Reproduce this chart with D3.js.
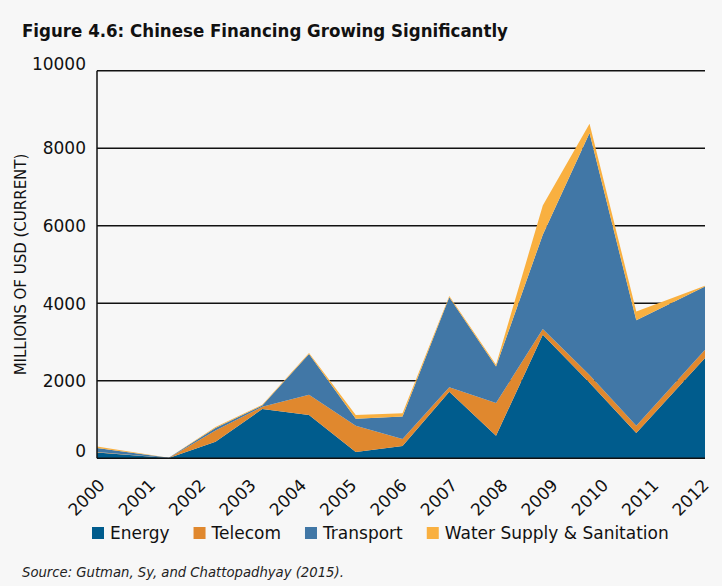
<!DOCTYPE html>
<meta charset="utf-8">
<style>

body {
  margin: 0;
  background: #f7f7f7;
}

svg {
  display: block;
  background: #f7f7f7;
}

.title {
  font-family: "DejaVu Sans Condensed", "DejaVu Sans", sans-serif;
  font-stretch: condensed;
  font-weight: bold;
  font-size: 18.5px;
  fill: #111;
}

.tick-label {
  font: 17px "DejaVu Sans", sans-serif;
  fill: #111;
}

.axis-title {
  font: 15px "DejaVu Sans", sans-serif;
  fill: #111;
}

.legend text {
  font: 17px "DejaVu Sans", sans-serif;
  fill: #111;
}

.source {
  font-family: "DejaVu Sans Condensed", "DejaVu Sans", sans-serif;
  font-stretch: condensed;
  font-style: italic;
  font-size: 14.7px;
  fill: #222;
}

</style>
<body>
<script src="https://cdn.jsdelivr.net/npm/d3@7"></script>
<script>

/*
  Data - millions of USD (current)
*/

var years     = [2000, 2001, 2002, 2003, 2004, 2005, 2006, 2007, 2008, 2009, 2010, 2011, 2012];
var energy    = [150, 5, 430, 1270, 1120, 160, 320, 1720, 580, 3190, 1950, 650, 2590];
var telecom   = [15, 0, 290, 60, 520, 680, 175, 115, 845, 145, 200, 190, 210];
var transport = [100, 10, 60, 30, 1050, 180, 585, 2320, 945, 2435, 6240, 2720, 1630];
var water     = [40, 0, 30, 20, 25, 100, 85, 35, 45, 750, 240, 230, 20];

var sectors   = ["Energy", "Telecom", "Transport", "Water Supply & Sanitation"];
var yTicks    = [0, 2000, 4000, 6000, 8000, 10000];

var colors = ["#005c8d", "#e0882e", "#4177a6", "#f9b040"];

/*
  Layout
*/

var width = 722,
    height = 586,
    margin = {top: 70.7, right: 17, bottom: 127.7, left: 97},
    w = width - margin.left - margin.right,
    h = height - margin.top - margin.bottom;

var svg = d3.select("body").append("svg")
    .attr("width", width)
    .attr("height", height);

var g = svg.append("g")
    .attr("transform", "translate(" + margin.left + "," + margin.top + ")");

/*
  Scales - the data points in the source sit closer together in the middle
  years than at the two ends, so x is a piecewise linear scale
*/

var x = d3.scaleLinear()
    .domain([2000, 2001, 2011, 2012])
    .range([0, w * 0.118, w * 0.887, w]);

var xLabels = d3.scalePoint()
    .domain(years)
    .range([0, w - 4]);

var y = d3.scaleLinear()
    .domain([0, 10000])
    .range([h, 0]);

var color = d3.scaleOrdinal()
    .domain(sectors)
    .range(colors);

/*
  Stack
*/

var table = years.map(function(yr, i) {
  var row = {year: yr};
  row[sectors[0]] = energy[i];
  row[sectors[1]] = telecom[i];
  row[sectors[2]] = transport[i];
  row[sectors[3]] = water[i];
  return row;
});

var series = d3.stack().keys(sectors)(table);

var area = d3.area()
    .x(function(d) { return x(d.data.year); })
    .y0(function(d) { return y(d[0]); })
    .y1(function(d) { return y(d[1]); });

/*
  Grid lines
*/

g.append("g")
    .selectAll("line")
    .data(yTicks.filter(function(t) { return t > 0; }))
    .enter().append("line")
    .attr("x1", 0)
    .attr("x2", w)
    .attr("y1", function(d) { return y(d); })
    .attr("y2", function(d) { return y(d); })
    .attr("stroke", "#111")
    .attr("stroke-width", 1.5);

/*
  Areas
*/

g.append("g")
    .selectAll("path")
    .data(series)
    .enter().append("path")
    .attr("d", area)
    .attr("fill", function(d) { return color(d.key); });

/*
  Axes lines
*/

g.append("line")
    .attr("x1", 0).attr("x2", 0)
    .attr("y1", 0).attr("y2", h)
    .attr("stroke", "#111")
    .attr("stroke-width", 1.5);

g.append("line")
    .attr("x1", 0).attr("x2", w)
    .attr("y1", h).attr("y2", h)
    .attr("stroke", "#111")
    .attr("stroke-width", 1.5);

/*
  Tick labels
*/

g.append("g")
    .selectAll("text")
    .data(yTicks)
    .enter().append("text")
    .attr("class", "tick-label")
    .attr("text-anchor", "end")
    .attr("x", -11)
    .attr("y", function(d) { return y(d); })
    .attr("dy", function(d, i) { return (i === 0 || i === yTicks.length - 1) ? "-0.05em" : "0.37em"; })
    .text(function(d) { return d; });

g.append("g")
    .selectAll("text")
    .data(years)
    .enter().append("text")
    .attr("class", "tick-label")
    .attr("text-anchor", "end")
    .attr("transform", function(d) { return "translate(" + (xLabels(d) + 9) + "," + (h + 28) + ") rotate(-45)"; })
    .text(function(d) { return d; });

svg.append("text")
    .attr("class", "axis-title")
    .attr("text-anchor", "middle")
    .attr("transform", "translate(26," + (margin.top + y(5000)) + ") rotate(-90)")
    .text("MILLIONS OF USD (CURRENT)");

/*
  Title, legend, source
*/

svg.append("text")
    .attr("class", "title")
    .attr("x", 22)
    .attr("y", 37)
    .text("Figure 4.6: Chinese Financing Growing Significantly");

var legend = svg.append("g")
    .attr("class", "legend")
    .attr("transform", "translate(92,527)");

var lx = 0;
sectors.forEach(function(s) {
  var item = legend.append("g").attr("transform", "translate(" + lx + ",0)");
  item.append("rect")
      .attr("width", 12)
      .attr("height", 12)
      .attr("fill", color(s));
  var t = item.append("text")
      .attr("x", 18)
      .attr("y", 12)
      .text(s);
  lx += 18 + t.node().getComputedTextLength() + 24;
});

svg.append("text")
    .attr("class", "source")
    .attr("x", 22)
    .attr("y", 577)
    .text("Source: Gutman, Sy, and Chattopadhyay (2015).");

</script>
